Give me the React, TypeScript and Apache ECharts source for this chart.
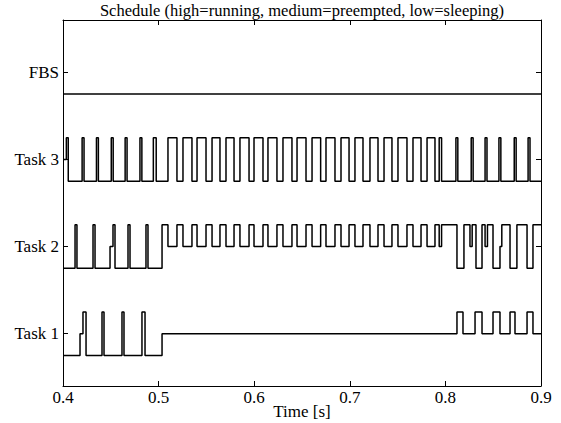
import React, { useEffect, useRef } from "react";
import * as echarts from "echarts";

// Row labels (y = 1..4)
const rowNames = ["Task 1", "Task 2", "Task 3", "FBS"];
const xTicks = [0.4, 0.5, 0.6, 0.7, 0.8, 0.9];
const yTicks = [1, 2, 3, 4];
const titleText = "Schedule (high=running, medium=preempted, low=sleeping)";
const xAxisTitle = "Time [s]";

// State change points: [time (s), level]  level: 1 = running, 0 = preempted, -1 = sleeping
const fbsStates: [number, number][] = [[0.4, -1]];

const task3States: [number, number][] = [
  [0.4, 0], [0.4035, 1], [0.4055, -1],
  [0.42, 1], [0.422, -1],
  [0.435, 1], [0.437, -1],
  [0.4505, 1], [0.4525, -1],
  [0.465, 1], [0.467, -1],
  [0.4805, 1], [0.4825, -1],
  [0.4945, 1], [0.4975, -1],
  [0.5098, 1], [0.5192, -1],
  [0.5255, 1], [0.5349, -1],
  [0.5402, 1], [0.5496, -1],
  [0.5559, 1], [0.5642, -1],
  [0.5705, 1], [0.5789, -1],
  [0.5851, 1], [0.5946, -1],
  [0.5998, 1], [0.6092, -1],
  [0.6144, 1], [0.6238, -1],
  [0.6301, 1], [0.6395, -1],
  [0.6448, 1], [0.6542, -1],
  [0.6605, 1], [0.6695, -1],
  [0.6751, 1], [0.6845, -1],
  [0.6908, 1], [0.6992, -1],
  [0.7054, 1], [0.7138, -1],
  [0.7211, 1], [0.7295, -1],
  [0.7358, 1], [0.7441, -1],
  [0.7504, 1], [0.7598, -1],
  [0.7661, 1], [0.7745, -1],
  [0.7808, 1], [0.7891, -1],
  [0.7935, 1], [0.796, -1],
  [0.811, 1], [0.813, -1],
  [0.827, 1], [0.829, -1],
  [0.8415, 1], [0.8435, -1],
  [0.856, 1], [0.858, -1],
  [0.872, 1], [0.874, -1],
  [0.8865, 1], [0.8885, -1],
];

const task2States: [number, number][] = [
  [0.4, -1],
  [0.4126, 1], [0.4146, -1],
  [0.4314, 1], [0.4335, -1],
  [0.4492, 0], [0.4523, 1], [0.4544, -1],
  [0.468, 1], [0.4701, -1],
  [0.4868, 1], [0.4889, -1],
  [0.5036, 1],
  [0.5098, 0], [0.5192, 1],
  [0.5255, 0], [0.5349, 1],
  [0.5402, 0], [0.5496, 1],
  [0.5559, 0], [0.5642, 1],
  [0.5705, 0], [0.5789, 1],
  [0.5851, 0], [0.5946, 1],
  [0.5998, 0], [0.6092, 1],
  [0.6144, 0], [0.6238, 1],
  [0.6301, 0], [0.6395, 1],
  [0.6448, 0], [0.6542, 1],
  [0.6605, 0], [0.6695, 1],
  [0.6751, 0], [0.6845, 1],
  [0.6908, 0], [0.6992, 1],
  [0.7054, 0], [0.7138, 1],
  [0.7211, 0], [0.7295, 1],
  [0.7358, 0], [0.7441, 1],
  [0.7504, 0], [0.7598, 1],
  [0.7661, 0], [0.7745, 1],
  [0.7808, 0], [0.7891, 1],
  [0.7935, 0], [0.796, 1],
  [0.8121, -1], [0.8194, 1],
  [0.8257, 0], [0.828, 1],
  [0.832, -1], [0.8383, 1],
  [0.8415, 0], [0.844, 1],
  [0.8498, -1], [0.8571, 0], [0.859, 1],
  [0.8676, -1], [0.8748, 1],
  [0.8854, -1], [0.8916, 1],
];

const task1States: [number, number][] = [
  [0.4, -1], [0.4178, 0], [0.4209, 1], [0.4241, -1],
  [0.4408, 1], [0.4429, -1],
  [0.4617, 1], [0.4638, -1],
  [0.4826, 1], [0.4858, -1],
  [0.5036, 0],
  [0.8121, 1], [0.8184, 0],
  [0.831, 1], [0.8383, 0],
  [0.8498, 1], [0.8571, 0],
  [0.8676, 1], [0.8728, 0],
  [0.8854, 1], [0.8916, 0],
];

const rows: [number, [number, number][]][] = [
  [1, task1States],
  [2, task2States],
  [3, task3States],
  [4, fbsStates],
];

const FONT = "Liberation Serif";

export default function App() {
  const ref = useRef<HTMLDivElement>(null);
  useEffect(() => {
    if (!ref.current) return;
    const chart = echarts.init(ref.current, undefined, { renderer: "svg" });
    const amp = 0.25;
    const series = rows.map(([base, states]) => {
      const data = states.map(([t, l]) => [t, base + amp * l]);
      const last = states[states.length - 1];
      data.push([0.9, base + amp * last[1]]);
      return {
        type: "line",
        step: "end",
        data,
        showSymbol: false,
        symbol: "none",
        silent: true,
        xAxisIndex: 0,
        yAxisIndex: 0,
        lineStyle: { color: "#000", width: 1.5 },
      };
    });
    const axisLineStyle = { lineStyle: { color: "#000", width: 1 } };
    const tickCommon = { inside: true, length: 5, lineStyle: { color: "#000", width: 1 } };
    chart.setOption({
      animation: false,
      backgroundColor: "#fff",
      grid: { left: 63, right: 20, top: 20, bottom: 37, containLabel: false, outerBoundsMode: "none" },
      graphic: [
        {
          type: "text",
          x: 302,
          y: 2,
          style: {
            text: titleText,
            textAlign: "center",
            fill: "#000",
            fontFamily: FONT,
            fontSize: 16.5,
          },
        },
        {
          type: "text",
          x: 302,
          y: 403,
          style: {
            text: xAxisTitle,
            textAlign: "center",
            textVerticalAlign: "top",
            fill: "#000",
            fontFamily: FONT,
            fontSize: 17,
          },
        },
      ],
      xAxis: [
        {
          type: "value",
          min: 0.4,
          max: 0.9,
          position: "bottom",
          axisLine: { show: true, ...axisLineStyle },
          axisTick: { ...tickCommon, customValues: xTicks },
          axisLabel: {
            customValues: xTicks,
            formatter: (v: number) => v.toFixed(1),
            color: "#000",
            fontFamily: FONT,
            fontSize: 17,
            margin: 3,
          },
          splitLine: { show: false },
        },
        {
          type: "value",
          min: 0.4,
          max: 0.9,
          position: "top",
          axisLine: { show: true, ...axisLineStyle },
          axisTick: { ...tickCommon, customValues: xTicks },
          axisLabel: { show: false },
          splitLine: { show: false },
        },
      ],
      yAxis: [
        {
          type: "value",
          min: 0.4,
          max: 4.6,
          position: "left",
          axisLine: { show: true, ...axisLineStyle },
          axisTick: { ...tickCommon, customValues: yTicks },
          axisLabel: {
            customValues: yTicks,
            formatter: (v: number) => rowNames[Math.round(v) - 1] || "",
            color: "#000",
            fontFamily: FONT,
            fontSize: 17,
            margin: 4,
          },
          splitLine: { show: false },
        },
        {
          type: "value",
          min: 0.4,
          max: 4.6,
          position: "right",
          axisLine: { show: true, ...axisLineStyle },
          axisTick: { ...tickCommon, customValues: yTicks },
          axisLabel: { show: false },
          splitLine: { show: false },
        },
      ],
      series,
    });
    return () => chart.dispose();
  }, []);
  return (
    <div
      ref={ref}
      style={{ position: "absolute", left: 0, top: 0, width: 561, height: 423, background: "#fff" }}
    />
  );
}
